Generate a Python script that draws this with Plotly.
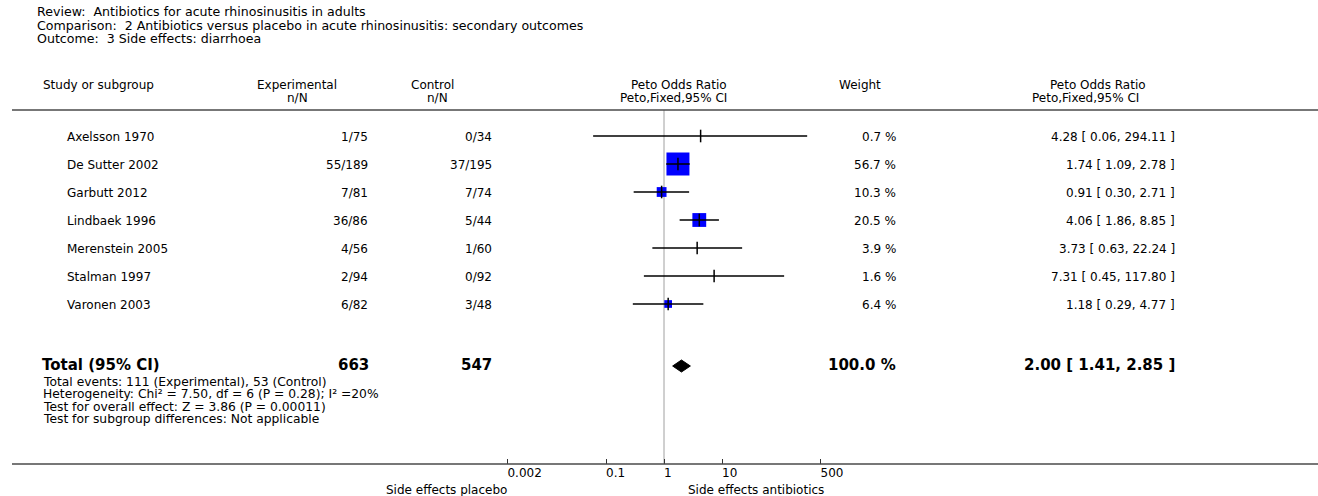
import numpy as np
import plotly.graph_objects as go

# ---------------- data ----------------
review_line = "Review:  Antibiotics for acute rhinosinusitis in adults"
comparison_line = "Comparison:  2 Antibiotics versus placebo in acute rhinosinusitis: secondary outcomes"
outcome_line = "Outcome:  3 Side effects: diarrhoea"

studies = ["Axelsson 1970", "De Sutter 2002", "Garbutt 2012", "Lindbaek 1996",
           "Merenstein 2005", "Stalman 1997", "Varonen 2003"]
exp_events = [1, 55, 7, 36, 4, 2, 6]
exp_total = [75, 189, 81, 86, 56, 94, 82]
ctl_events = [0, 37, 7, 5, 1, 0, 3]
ctl_total = [34, 195, 74, 44, 60, 92, 48]
weights = [0.7, 56.7, 10.3, 20.5, 3.9, 1.6, 6.4]
odds_ratio = [4.28, 1.74, 0.91, 4.06, 3.73, 7.31, 1.18]
ci_low = [0.06, 1.09, 0.30, 1.86, 0.63, 0.45, 0.29]
ci_high = [294.11, 2.78, 2.71, 8.85, 22.24, 117.80, 4.77]

total_exp = 663
total_ctl = 547
total_weight = 100.0
total_or = 2.00
total_low = 1.41
total_high = 2.85

footnotes = [
    "Total events: 111 (Experimental), 53 (Control)",
    "Heterogeneity: Chi² = 7.50, df = 6 (P = 0.28); I² =20%",
    "Test for overall effect: Z = 3.86 (P = 0.00011)",
    "Test for subgroup differences: Not applicable",
]

tick_values = [0.002, 0.1, 1, 10, 500]
tick_labels = ["0.002", "0.1", "1", "10", "500"]
left_label = "Side effects placebo"
right_label = "Side effects antibiotics"

# ---------------- layout constants ----------------
W, H = 1318, 496
X_ONE = 664.0          # pixel of OR = 1
PX_DEC = 58.0          # pixels per decade
AXIS_Y = 464           # bottom rule / axis line
TOP_RULE = 110
ROW0, ROW_STEP = 136, 28
TOTAL_Y = 365
FONT = "DejaVu Sans"
FS = 12
BLACK = "#000000"

row_y = [ROW0 + i * ROW_STEP for i in range(len(studies))]

fig = go.Figure()

# reference line at OR = 1
fig.add_trace(go.Scatter(x=[1, 1], y=[TOP_RULE, AXIS_Y], mode="lines",
                         line=dict(color="#a0a0a0", width=1), hoverinfo="skip"))

# weight squares (area proportional to weight; tiny weights not drawn)
k = 23.0 / np.sqrt(max(weights))
sq_x = [o for o, w in zip(odds_ratio, weights) if w >= 5]
sq_y = [y for y, w in zip(row_y, weights) if w >= 5]
sq_s = [k * np.sqrt(w) for w in weights if w >= 5]
fig.add_trace(go.Scatter(x=sq_x, y=sq_y, mode="markers",
                         marker=dict(symbol="square", size=sq_s, color="#0000ff",
                                     opacity=1, line=dict(width=0)),
                         hoverinfo="skip"))

# confidence interval lines
cx, cy = [], []
for lo, hi, y in zip(ci_low, ci_high, row_y):
    cx += [lo, hi, None]
    cy += [y, y, None]
fig.add_trace(go.Scatter(x=cx, y=cy, mode="lines",
                         line=dict(color=BLACK, width=1.5), hoverinfo="skip"))

# point estimate ticks
fig.add_trace(go.Scatter(x=odds_ratio, y=row_y, mode="markers",
                         marker=dict(symbol="line-ns", size=9,
                                     line=dict(color=BLACK, width=1.5)),
                         hoverinfo="skip"))

# pooled diamond
DH = 6
fig.add_trace(go.Scatter(x=[total_low, total_or, total_high, total_or, total_low],
                         y=[TOTAL_Y + 1, TOTAL_Y + 1 - DH, TOTAL_Y + 1, TOTAL_Y + 1 + DH, TOTAL_Y + 1],
                         mode="lines", fill="toself", fillcolor=BLACK,
                         line=dict(color=BLACK, width=1), hoverinfo="skip"))

# axis tick labels (left-aligned on the ticks)
fig.add_trace(go.Scatter(x=tick_values, y=[AXIS_Y + 10] * len(tick_values),
                         mode="text", text=tick_labels, textposition="middle right",
                         textfont=dict(family=FONT, size=FS, color=BLACK),
                         cliponaxis=False, hoverinfo="skip"))

ann = []


def txt(px, py, s, anchor="left", size=FS, bold=False):
    ann.append(dict(xref="paper", yref="paper", x=px / W, y=1 - py / H,
                    text=f"<b>{s}</b>" if bold else s,
                    xanchor=anchor, yanchor="middle", showarrow=False,
                    borderpad=0,
                    font=dict(family=FONT, size=size, color=BLACK)))


# header
txt(36, 11, review_line, size=12.6)
txt(36, 25, comparison_line, size=12.6)
txt(36, 38, outcome_line, size=12.6)

txt(42, 85, "Study or subgroup")
txt(297, 85, "Experimental", "center")
txt(297, 98, "n/N", "center")
txt(432, 85, "Control", "center")
txt(437, 98, "n/N", "center")
txt(728, 85, "Peto Odds Ratio", "right")
txt(728, 98, "Peto,Fixed,95% CI", "right")
txt(860, 85, "Weight", "center")
txt(1098, 85, "Peto Odds Ratio", "center")
txt(1085, 98, "Peto,Fixed,95% CI", "center")

# study rows
for i, y in enumerate(row_y):
    txt(66, y + 1, studies[i])
    txt(369, y + 1, f"{exp_events[i]}/{exp_total[i]}", "right")
    txt(493, y + 1, f"{ctl_events[i]}/{ctl_total[i]}", "right")
    txt(897, y + 1, f"{weights[i]:.1f} %", "right")
    txt(1176, y + 1, f"{odds_ratio[i]:.2f} [ {ci_low[i]:.2f}, {ci_high[i]:.2f} ]", "right")

# total row
txt(41, TOTAL_Y, "Total (95% CI)", size=15, bold=True)
txt(370, TOTAL_Y, f"{total_exp}", "right", size=15, bold=True)
txt(493, TOTAL_Y, f"{total_ctl}", "right", size=15, bold=True)
txt(897, TOTAL_Y, f"{total_weight:.1f} %", "right", size=15, bold=True)
txt(1176, TOTAL_Y, f"{total_or:.2f} [ {total_low:.2f}, {total_high:.2f} ]", "right",
    size=15, bold=True)

for j, line in enumerate(footnotes):
    txt(42, 382 + j * 12.3, line, size=12.3)

# axis side labels
txt(508, 490, left_label, "right")
txt(687, 490, right_label, "left")

shapes = [
    dict(type="line", xref="paper", yref="paper", x0=12 / W, x1=1.0,
         y0=1 - TOP_RULE / H, y1=1 - TOP_RULE / H,
         line=dict(color="#4a4a4a", width=1.5)),
    dict(type="line", xref="paper", yref="paper", x0=12 / W, x1=1.0,
         y0=1 - AXIS_Y / H, y1=1 - AXIS_Y / H,
         line=dict(color="#4a4a4a", width=1.5)),
]

fig.update_layout(
    width=W, height=H,
    margin=dict(l=0, r=0, t=0, b=0),
    paper_bgcolor="white", plot_bgcolor="white",
    showlegend=False,
    annotations=ann, shapes=shapes,
    font=dict(family=FONT, size=FS, color=BLACK),
    xaxis=dict(type="log", domain=[0, 1], anchor="free", position=1 - AXIS_Y / H,
               range=[(0 - X_ONE) / PX_DEC, (W - X_ONE) / PX_DEC],
               tickvals=tick_values, showticklabels=False,
               ticks="inside", ticklen=5, tickwidth=1, tickcolor="#333",
               showgrid=False, zeroline=False, showline=False, fixedrange=True),
    yaxis=dict(domain=[0, 1], range=[H, 0],
               visible=False, showgrid=False, zeroline=False, fixedrange=True),
)

fig.write_html("out.html")
